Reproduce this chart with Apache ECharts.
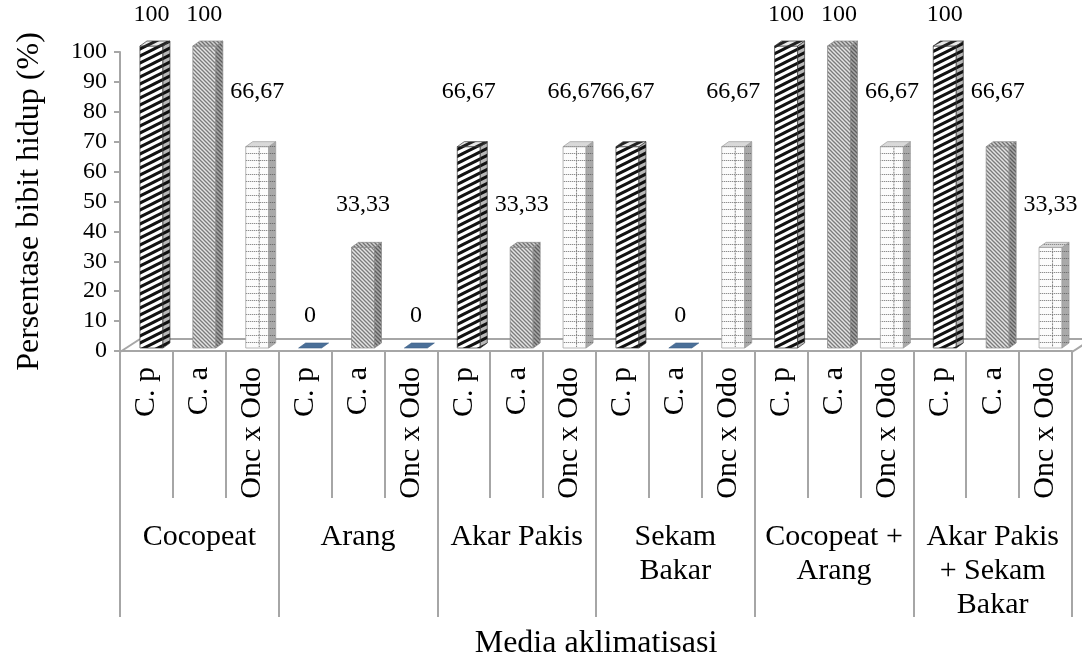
<!DOCTYPE html>
<html>
<head>
<meta charset="utf-8">
<title>Persentase bibit hidup</title>
<script src="https://cdn.jsdelivr.net/npm/echarts@6/dist/echarts.min.js"></script>
<style>
  html, body { margin: 0; padding: 0; background: #fff; }
  #chart { width: 1082px; height: 662px; }
</style>
</head>
<body>
<div id="chart"></div>
<script>
// Media groups (x axis, outer level) and orchid types (inner level)
const groups = ['Cocopeat', 'Arang', 'Akar Pakis', 'Sekam\nBakar', 'Cocopeat +\nArang', 'Akar Pakis\n+ Sekam\nBakar'];
const species = ['C. p', 'C. a', 'Onc x Odo'];

// Survival percentage per group, one array per orchid type
const cpValues  = [100, 0, 66.67, 66.67, 100, 100];
const caValues  = [100, 33.33, 33.33, 0, 100, 66.67];
const oncValues = [66.67, 0, 66.67, 66.67, 66.67, 33.33];

const yTicks = { min: 0, max: 100, step: 10 };

const FONT = "'Liberation Serif', 'Times New Roman', serif";
const GRAY = '#a6a6a6';

// inner category list: each group repeats the three orchid types
const subCategories = [];
groups.forEach(() => species.forEach(s => subCategories.push(s)));

// ---------- fill patterns ----------
function makeCanvas(w, h, bg) {
  const c = document.createElement('canvas');
  c.width = w; c.height = h;
  const ctx = c.getContext('2d');
  ctx.fillStyle = bg;
  ctx.fillRect(0, 0, w, h);
  return [c, ctx];
}
// thick rising stripes
function wideStripe(bg, fg) {
  const [c, ctx] = makeCanvas(14, 7, bg);
  ctx.strokeStyle = fg; ctx.lineWidth = 3;
  for (let k = -1; k <= 2; k++) {
    ctx.beginPath(); ctx.moveTo(-1, k * 7 + 7.5); ctx.lineTo(15, k * 7 - 0.5); ctx.stroke();
  }
  return { image: c, repeat: 'repeat' };
}
// fine falling hatch
function fineHatch(bg, fg) {
  const [c, ctx] = makeCanvas(4, 4, bg);
  ctx.strokeStyle = fg; ctx.lineWidth = 1.3;
  for (let k = -1; k <= 1; k++) {
    ctx.beginPath(); ctx.moveTo(k * 4 - 1, -1); ctx.lineTo(k * 4 + 5, 5); ctx.stroke();
  }
  return { image: c, repeat: 'repeat' };
}
// dotted grid
function dotGrid(bg, fg) {
  const [c, ctx] = makeCanvas(6, 7, bg);
  ctx.fillStyle = fg;
  for (let x = 0; x < 6; x += 2) ctx.fillRect(x, 6, 1.3, 1);
  return { image: c, repeat: 'repeat' };
}

const styles = [
  { front: wideStripe('#ffffff', '#111111'), side: wideStripe('#b8b8b8', '#111111'), top: wideStripe('#e8e8e8', '#222222'), stroke: '#333333', grid: false },
  { front: fineHatch('#e4e4e4', '#7c7c7c'), side: fineHatch('#a8a8a8', '#5e5e5e'), top: fineHatch('#d0d0d0', '#707070'), stroke: '#8a8a8a', grid: false },
  { front: dotGrid('#fcfcfc', '#8e8e8e'), side: dotGrid('#a9a9a9', '#6e6e6e'), top: dotGrid('#d9d9d9', '#8a8a8a'), stroke: '#9a9a9a', grid: true }
];

// 3D bar geometry (pixels)
const BAR_W = 23, DEPTH_X = 7, DEPTH_Y = -5, SHIFT = 5, LIFT = 3;

function fmt(v) { return String(v).replace('.', ','); }
function labelGap(v) {
  if (v >= 100) return 31;
  if (v >= 60) return 55;
  if (v > 0) return 43;
  return 32;
}

function barRenderer(k) {
  const st = styles[k];
  return function (params, api) {
    const idx = api.value(0), v = api.value(1);
    const p0 = api.coord([idx, 0]);
    const pv = api.coord([idx, v]);
    const cx = p0[0] + SHIFT;
    const x0 = cx - BAR_W / 2, x1 = cx + BAR_W / 2;
    const yb = p0[1] - LIFT;
    const yt = yb - (p0[1] - pv[1]) * 1.01;
    const children = [];
    if (v === 0) {
      children.push({
        type: 'polygon',
        shape: { points: [[x0, yb], [x1, yb], [x1 + DEPTH_X, yb + DEPTH_Y], [x0 + DEPTH_X, yb + DEPTH_Y]] },
        style: { fill: '#4a6f98', stroke: '#3d5f86', lineWidth: 0.6 }
      });
    } else {
      children.push({
        type: 'polygon',
        shape: { points: [[x0, yb], [x1, yb], [x1, yt], [x0, yt]] },
        style: { fill: st.front, stroke: st.stroke, lineWidth: 0.7 }
      });
      children.push({
        type: 'polygon',
        shape: { points: [[x1, yb], [x1 + DEPTH_X, yb + DEPTH_Y], [x1 + DEPTH_X, yt + DEPTH_Y], [x1, yt]] },
        style: { fill: st.side, stroke: st.stroke, lineWidth: 0.7 }
      });
      children.push({
        type: 'polygon',
        shape: { points: [[x0, yt], [x1, yt], [x1 + DEPTH_X, yt + DEPTH_Y], [x0 + DEPTH_X, yt + DEPTH_Y]] },
        style: { fill: st.top, stroke: st.stroke, lineWidth: 0.7 }
      });
      if (st.grid) {
        children.push({
          type: 'line',
          shape: { x1: cx + 2, y1: yt + 1, x2: cx + 2, y2: yb - 1 },
          style: { stroke: '#7e7e7e', lineWidth: 1, lineDash: [2, 1] }
        });
      }
    }
    children.push({
      type: 'text',
      style: {
        x: cx, y: yt - labelGap(v),
        text: fmt(v),
        align: 'center', verticalAlign: 'middle',
        fontFamily: FONT, fontSize: 24, fill: '#000'
      },
      z2: 10
    });
    return { type: 'group', children };
  };
}

function seriesData(values, k) {
  return values.map((v, g) => [g * species.length + k, v]);
}

// floor of the 3D plot area
function floorRenderer(params, api) {
  const cs = params.coordSys;
  const bx = cs.x, by = cs.y + cs.height + 1, w = cs.width;
  const dx = 20, dy = -13;
  const ls = { stroke: GRAY, lineWidth: 2 };
  return {
    type: 'group',
    children: [
      { type: 'line', shape: { x1: bx, y1: by, x2: bx + dx, y2: by + dy }, style: ls },
      { type: 'line', shape: { x1: bx + dx, y1: by + dy, x2: bx + w + dx, y2: by + dy }, style: ls },
      { type: 'line', shape: { x1: bx + w, y1: by, x2: bx + w + dx, y2: by + dy }, style: ls }
    ]
  };
}

const chart = echarts.init(document.getElementById('chart'), null, { renderer: 'canvas' });

const option = {
  animation: false,
  backgroundColor: '#ffffff',
  grid: { left: 120, right: 10, top: 52, bottom: 311, containLabel: false },
  xAxis: [
    {
      type: 'category',
      data: subCategories,
      position: 'bottom',
      axisLine: { show: true, lineStyle: { color: GRAY, width: 2 } },
      axisTick: { show: true, interval: 0, length: 147, lineStyle: { color: GRAY, width: 2 } },
      axisLabel: { interval: 0, rotate: 90, margin: 16, fontSize: 30, fontFamily: FONT, color: '#000' },
      splitLine: { show: false }
    },
    {
      type: 'category',
      data: groups,
      position: 'bottom',
      axisLine: { show: false },
      axisTick: { show: true, interval: 0, length: 266, lineStyle: { color: GRAY, width: 2 } },
      axisLabel: { interval: 0, margin: 169, fontSize: 30, lineHeight: 34, fontFamily: FONT, color: '#000' },
      splitLine: { show: false },
      name: 'Media aklimatisasi',
      nameLocation: 'middle',
      nameGap: 277,
      nameTextStyle: { fontSize: 32, fontFamily: FONT, color: '#000' }
    }
  ],
  yAxis: {
    type: 'value',
    min: yTicks.min, max: yTicks.max, interval: yTicks.step,
    axisLine: { show: true, lineStyle: { color: GRAY, width: 2 } },
    axisTick: { show: true, length: 6, lineStyle: { color: GRAY, width: 2 } },
    splitLine: { show: false },
    axisLabel: { margin: 13, fontSize: 24, fontFamily: FONT, color: '#000' },
    name: 'Persentase bibit hidup (%)',
    nameLocation: 'middle',
    nameGap: 74,
    nameTextStyle: { fontSize: 32, fontFamily: FONT, color: '#000' }
  },
  series: [
    { type: 'custom', name: 'floor', xAxisIndex: 0, renderItem: floorRenderer, data: [[0, 0]], z: 1, silent: true },
    { type: 'custom', name: species[0], xAxisIndex: 0, renderItem: barRenderer(0), data: seriesData(cpValues, 0), z: 3 },
    { type: 'custom', name: species[1], xAxisIndex: 0, renderItem: barRenderer(1), data: seriesData(caValues, 1), z: 3 },
    { type: 'custom', name: species[2], xAxisIndex: 0, renderItem: barRenderer(2), data: seriesData(oncValues, 2), z: 3 }
  ]
};

chart.setOption(option);
</script>
</body>
</html>
